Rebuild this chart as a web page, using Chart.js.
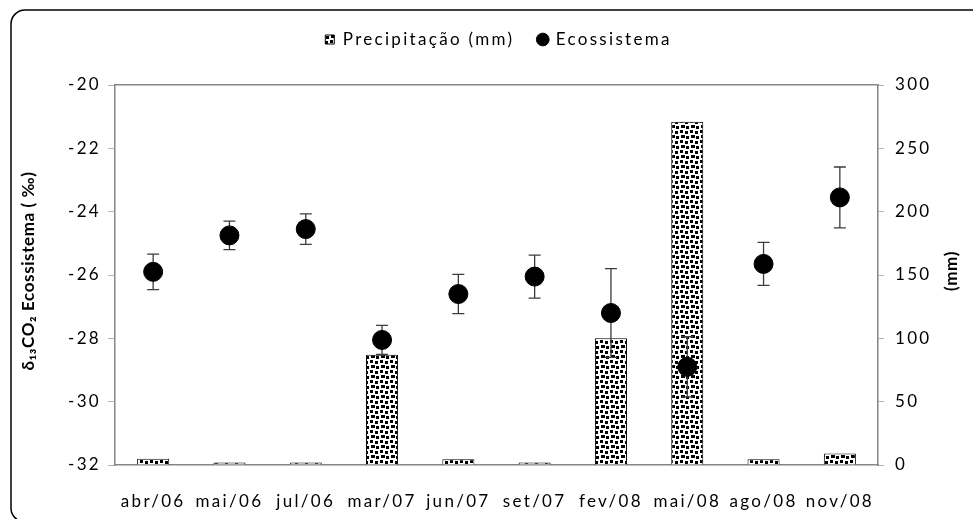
<!DOCTYPE html>
<html lang="pt">
  <head>
    <meta charset="UTF-8" />
    <title>Precipitação e δ13CO2 do ecossistema</title>
    <script src="https://cdn.jsdelivr.net/npm/chart.js"></script>
    <style>
      html,
      body {
        margin: 0;
        padding: 0;
        background: #fff;
      }
      .chart-box {
        position: relative;
        width: 973px;
        height: 519px;
      }
    </style>
  </head>
  <body>
    <div class="chart-box"><canvas id="chuvaChart"></canvas></div>

    <script>
      // dados
      const meses = ["abr/06", "mai/06", "jul/06", "mar/07", "jun/07", "set/07", "fev/08", "mai/08", "ago/08", "nov/08"];
      const precipitacao = [5, 2, 2, 87, 4.5, 2, 100, 271, 4.5, 9];
      const ecossistema = [-25.9, -24.75, -24.55, -28.05, -26.6, -26.05, -27.2, -28.9, -25.65, -23.55];
      const erroEcossistema = [0.56, 0.45, 0.48, 0.46, 0.62, 0.68, 1.4, 0.95, 0.68, 0.96];
      const ticksDelta = [-32, -30, -28, -26, -24, -22, -20];
      const ticksChuva = [0, 50, 100, 150, 200, 250, 300];

      const tituloEsq = "δ₁₃CO₂ Ecossistema ( ‰)";
      const tituloDir = "(mm)";
      const corEixo = "#868686";
      const corTick = "#b4b4b4";
      const fonte = "Lato, 'Open Sans', sans-serif";

      Chart.defaults.font.family = fonte;
      Chart.defaults.font.size = 17;
      Chart.defaults.color = "#000";

      // padrão pontilhado das barras
      function padraoPontos() {
        const c = document.createElement("canvas");
        c.width = 10;
        c.height = 10;
        const g = c.getContext("2d");
        g.fillStyle = "#fff";
        g.fillRect(0, 0, 10, 10);
        g.fillStyle = "#000";
        g.fillRect(0, 0, 3, 3);
        g.fillRect(5, 1, 3, 3);
        g.fillRect(1, 5, 4, 3);
        g.fillRect(6, 6, 3, 3);
        return g.createPattern(c, "repeat");
      }

      const espacamento = {
        id: "espacamento",
        beforeUpdate(chart) {
          chart.ctx.letterSpacing = "2.3px";
        },
        beforeDraw(chart) {
          chart.ctx.letterSpacing = "2.3px";
        }
      };

      const barrasErro = {
        id: "barrasErro",
        beforeDatasetDraw(chart, args) {
          if (args.index !== 1) return;
          const { ctx, scales } = chart;
          const meta = chart.getDatasetMeta(1);
          ctx.save();
          ctx.strokeStyle = "#3c3c3c";
          ctx.lineWidth = 1.3;
          meta.data.forEach((pt, i) => {
            const yTop = scales.y.getPixelForValue(ecossistema[i] + erroEcossistema[i]);
            const yBot = scales.y.getPixelForValue(ecossistema[i] - erroEcossistema[i]);
            ctx.beginPath();
            ctx.moveTo(pt.x, yTop);
            ctx.lineTo(pt.x, yBot);
            ctx.moveTo(pt.x - 6, yTop);
            ctx.lineTo(pt.x + 6, yTop);
            ctx.moveTo(pt.x - 6, yBot);
            ctx.lineTo(pt.x + 6, yBot);
            ctx.stroke();
          });
          ctx.restore();
        }
      };

      function tituloVertical(ctx, texto, x, y) {
        ctx.save();
        ctx.letterSpacing = "0.6px";
        ctx.font = "bold 17px " + fonte;
        ctx.fillStyle = "#000";
        ctx.textAlign = "center";
        ctx.textBaseline = "middle";
        ctx.translate(x, y);
        ctx.rotate(-Math.PI / 2);
        ctx.fillText(texto, 0, 0);
        ctx.restore();
      }

      const moldura = {
        id: "moldura",
        afterDraw(chart) {
          const { ctx, chartArea, scales } = chart;
          const meio = (chartArea.top + chartArea.bottom) / 2 - 4;
          tituloVertical(ctx, tituloEsq, scales.y.left + 5, meio);
          tituloVertical(ctx, tituloDir, scales.y2.right - 21, meio);

          // borda arredondada externa
          ctx.save();
          ctx.strokeStyle = "#000";
          ctx.lineWidth = 1.5;
          ctx.beginPath();
          ctx.roundRect(11, 10, chart.width + 20, chart.height - 7, 14);
          ctx.stroke();
          ctx.restore();
        }
      };

      const pontos = padraoPontos();

      new Chart(document.getElementById("chuvaChart"), {
        type: "bar",
        data: {
          labels: meses,
          datasets: [
            {
              label: "Precipitação (mm)",
              data: precipitacao,
              yAxisID: "y2",
              backgroundColor: pontos,
              borderColor: "#000",
              borderWidth: 1,
              pointStyle: "rect",
              barPercentage: 0.42,
              categoryPercentage: 1,
              order: 2
            },
            {
              type: "line",
              label: "Ecossistema",
              data: ecossistema,
              yAxisID: "y",
              showLine: false,
              pointStyle: "circle",
              pointRadius: 9.5,
              pointHoverRadius: 9.5,
              backgroundColor: "#000",
              borderColor: "#000",
              order: 1
            }
          ]
        },
        options: {
          responsive: true,
          maintainAspectRatio: false,
          animation: false,
          layout: { padding: { top: 7, left: 24, right: 0, bottom: 0 } },
          plugins: {
            legend: {
              position: "top",
              labels: {
                usePointStyle: true,
                boxWidth: 9,
                boxHeight: 9,
                padding: 24,
                color: "#000",
                font: { size: 17 },
                sort: (a, b) => a.datasetIndex - b.datasetIndex
              }
            },
            tooltip: { enabled: true }
          },
          scales: {
            x: {
              position: "bottom",
              grid: { display: false },
              border: { display: true, color: corEixo, width: 1.5 },
              ticks: { padding: 18, maxRotation: 0, autoSkip: false },
              afterFit(scale) {
                scale.height = 54;
              }
            },
            x2: {
              type: "category",
              position: "top",
              grid: { display: false },
              border: { display: true, color: corEixo, width: 1.5 },
              ticks: { display: false },
              afterFit(scale) {
                scale.height = 27;
              }
            },
            y: {
              position: "left",
              min: ticksDelta[0],
              max: ticksDelta[ticksDelta.length - 1],
              ticks: { stepSize: ticksDelta[1] - ticksDelta[0], padding: 7 },
              grid: { drawOnChartArea: false, tickLength: 7, color: corTick },
              border: { display: true, color: corEixo, width: 1.5 },
              afterFit(scale) {
                scale.width = 91;
              }
            },
            y2: {
              position: "right",
              min: ticksChuva[0],
              max: ticksChuva[ticksChuva.length - 1],
              ticks: { stepSize: ticksChuva[1] - ticksChuva[0], padding: 11 },
              grid: { drawOnChartArea: false, tickLength: 6, color: corTick },
              border: { display: true, color: corEixo, width: 1.5 },
              afterFit(scale) {
                scale.width = 95;
              }
            }
          }
        },
        plugins: [espacamento, barrasErro, moldura]
      });
    </script>
  </body>
</html>
